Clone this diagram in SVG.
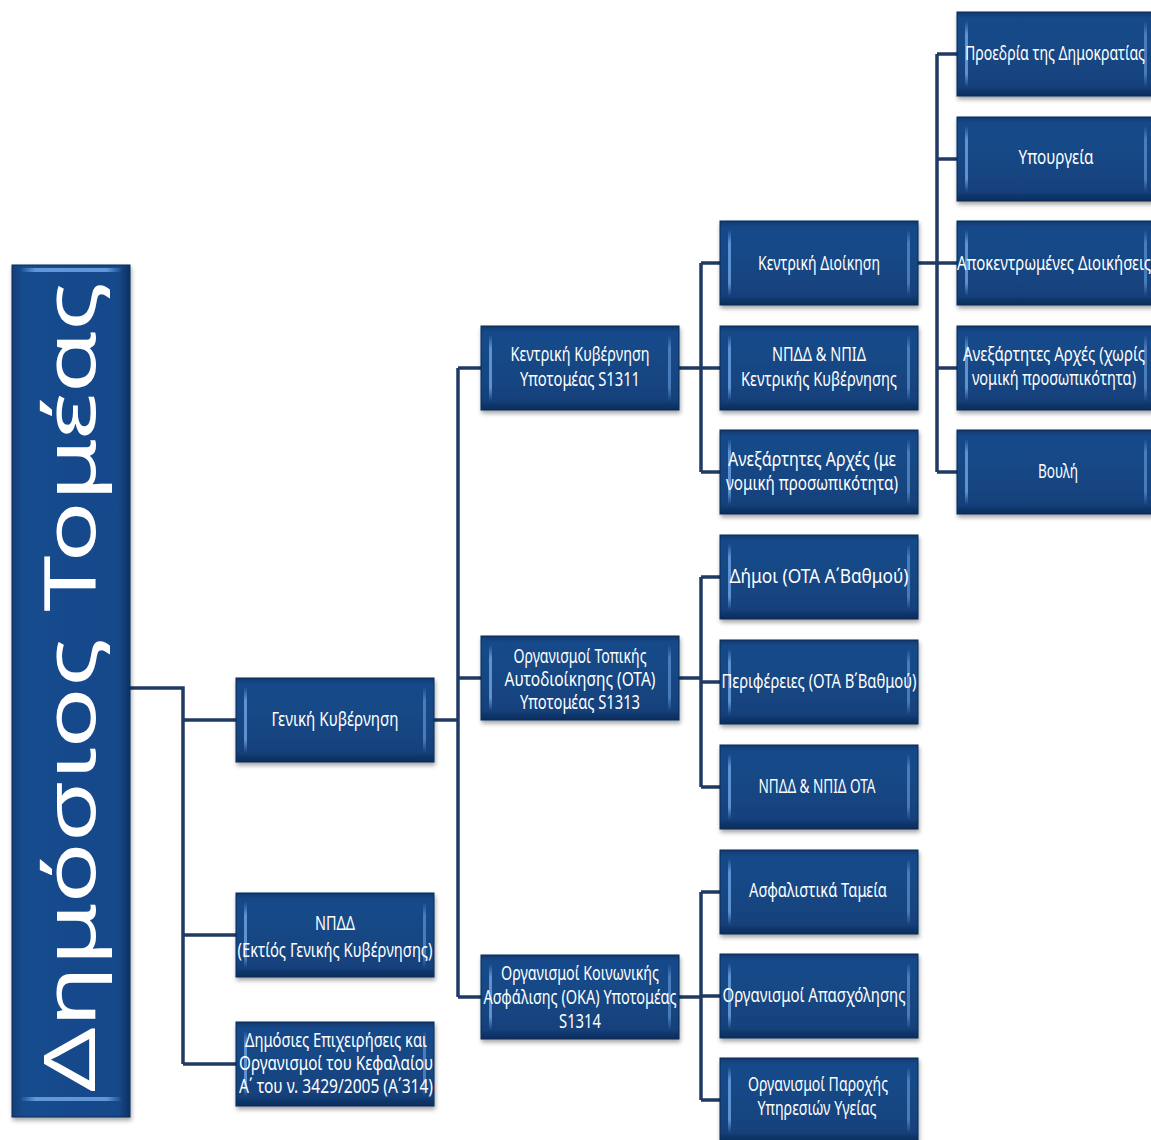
<svg xmlns="http://www.w3.org/2000/svg" xmlns:xlink="http://www.w3.org/1999/xlink" width="1151" height="1140" viewBox="0 0 1151 1140">
<style>
.t{font-family:"Noto Sans","DejaVu Sans",sans-serif;font-size:19px;fill:#ffffff;text-anchor:middle}
.title{font-family:"Noto Sans","DejaVu Sans",sans-serif;font-size:72px;fill:#ffffff;text-anchor:middle}
.node use{filter:url(#sh)}
#connectors path{fill:none;stroke:#203a64;stroke-width:3.5}
</style>
<defs>
<filter id="sh" x="-10%" y="-10%" width="130%" height="140%">
<feDropShadow dx="1" dy="3" stdDeviation="2" flood-color="#000" flood-opacity="0.35"/>
</filter>
<linearGradient id="face" x1="0" y1="0" x2="0" y2="1">
<stop offset="0" stop-color="#0e3870"/>
<stop offset="0.08" stop-color="#184a8a"/>
<stop offset="0.5" stop-color="#174784"/>
<stop offset="0.88" stop-color="#14417c"/>
<stop offset="1" stop-color="#0b2c5a"/>
</linearGradient>
<linearGradient id="faceT" x1="0" y1="0" x2="1" y2="0">
<stop offset="0" stop-color="#113d77"/>
<stop offset="0.1" stop-color="#194c8e"/>
<stop offset="0.9" stop-color="#17488a"/>
<stop offset="1" stop-color="#0d3265"/>
</linearGradient>
<linearGradient id="hl" x1="0" y1="0" x2="0" y2="1">
<stop offset="0" stop-color="#6a9fe0" stop-opacity="0"/>
<stop offset="0.2" stop-color="#6a9fe0" stop-opacity="0.85"/>
<stop offset="0.8" stop-color="#6a9fe0" stop-opacity="0.85"/>
<stop offset="1" stop-color="#6a9fe0" stop-opacity="0"/>
</linearGradient>
<linearGradient id="hlH" x1="0" y1="0" x2="1" y2="0">
<stop offset="0" stop-color="#6a9fe0" stop-opacity="0"/>
<stop offset="0.15" stop-color="#6a9fe0" stop-opacity="0.9"/>
<stop offset="0.85" stop-color="#6a9fe0" stop-opacity="0.9"/>
<stop offset="1" stop-color="#6a9fe0" stop-opacity="0"/>
</linearGradient>
<g id="bx">
<rect width="198" height="84" fill="url(#face)" stroke="#0b2b57" stroke-width="1"/>
<rect x="8" y="9" width="3" height="66" fill="url(#hl)"/>
<rect x="187" y="9" width="3" height="66" fill="url(#hl)" opacity="0.7"/>
</g>
</defs>
<rect width="1151" height="1140" fill="#ffffff"/>

<g id="connectors">
<path d="M130 688H183V1064M183 720H236M183 935H236M183 1064H236"/>
<path d="M434 720H458M458 368V997M458 368H481M458 678H481M458 997H481"/>
<path d="M679 368H701M701 263V472M701 263H720M701 368H720M701 472H720"/>
<path d="M679 678H701M701 577V787M701 577H720M701 682H720M701 787H720"/>
<path d="M679 997H701M701 892V1100M701 892H720M701 996H720M701 1100H720"/>
<path d="M918 263H937M937 54V472M937 54H957M937 159H957M937 263H957M937 368H957M937 472H957"/>
</g>

<g id="n-title">
<rect x="12" y="265" width="118" height="852" fill="url(#faceT)" stroke="#0b2b57" stroke-width="1" filter="url(#sh)"/>
<rect x="20" y="268" width="102" height="4" fill="url(#hlH)"/>
<rect x="20" y="1097" width="102" height="4" fill="url(#hlH)"/>
<text class="title" x="95" y="687" transform="rotate(-90 95 687)" textLength="810" lengthAdjust="spacingAndGlyphs">Δημόσιος Τομέας</text>
</g>

<g id="n-geniki" class="node"><use href="#bx" x="236" y="678"/>
<text class="t" x="335" y="726" textLength="127" lengthAdjust="spacingAndGlyphs">Γενική Κυβέρνηση</text></g>

<g id="n-npdd" class="node"><use href="#bx" x="236" y="893"/>
<text class="t" x="335" y="930" textLength="40" lengthAdjust="spacingAndGlyphs">ΝΠΔΔ</text>
<text class="t" x="335" y="957" textLength="195" lengthAdjust="spacingAndGlyphs">(Εκτίός Γενικής Κυβέρνησης)</text></g>

<g id="n-dimosies" class="node"><use href="#bx" x="236" y="1022"/>
<text class="t" x="336" y="1047" textLength="182" lengthAdjust="spacingAndGlyphs">Δημόσιες Επιχειρήσεις και</text>
<text class="t" x="336" y="1070" textLength="194" lengthAdjust="spacingAndGlyphs">Οργανισμοί του Κεφαλαίου</text>
<text class="t" x="336" y="1093" textLength="194" lengthAdjust="spacingAndGlyphs">Α΄ του ν. 3429/2005 (Α΄314)</text></g>

<g id="n-kentriki-kyv" class="node"><use href="#bx" x="481" y="326"/>
<text class="t" x="580" y="361" textLength="139" lengthAdjust="spacingAndGlyphs">Κεντρική Κυβέρνηση</text>
<text class="t" x="580" y="386" textLength="120" lengthAdjust="spacingAndGlyphs">Υποτομέας S1311</text></g>

<g id="n-ota" class="node"><use href="#bx" x="481" y="636"/>
<text class="t" x="580" y="663" textLength="133" lengthAdjust="spacingAndGlyphs">Οργανισμοί Τοπικής</text>
<text class="t" x="580" y="686" textLength="151" lengthAdjust="spacingAndGlyphs">Αυτοδιοίκησης (ΟΤΑ)</text>
<text class="t" x="580" y="709" textLength="120" lengthAdjust="spacingAndGlyphs">Υποτομέας S1313</text></g>

<g id="n-oka" class="node"><use href="#bx" x="481" y="955"/>
<text class="t" x="580" y="980" textLength="158" lengthAdjust="spacingAndGlyphs">Οργανισμοί Κοινωνικής</text>
<text class="t" x="580" y="1004" textLength="193" lengthAdjust="spacingAndGlyphs">Ασφάλισης (ΟΚΑ) Υποτομέας</text>
<text class="t" x="580" y="1028" textLength="42" lengthAdjust="spacingAndGlyphs">S1314</text></g>

<g id="n-kentriki-dioik" class="node"><use href="#bx" x="720" y="221"/>
<text class="t" x="819" y="270" textLength="122" lengthAdjust="spacingAndGlyphs">Κεντρική Διοίκηση</text></g>

<g id="n-npdd-kk" class="node"><use href="#bx" x="720" y="326"/>
<text class="t" x="819" y="361" textLength="94" lengthAdjust="spacingAndGlyphs">ΝΠΔΔ &amp; ΝΠΙΔ</text>
<text class="t" x="819" y="386" textLength="156" lengthAdjust="spacingAndGlyphs">Κεντρικής Κυβέρνησης</text></g>

<g id="n-anex-me" class="node"><use href="#bx" x="720" y="430"/>
<text class="t" x="812" y="466" textLength="168" lengthAdjust="spacingAndGlyphs">Ανεξάρτητες Αρχές (με</text>
<text class="t" x="812" y="490" textLength="172" lengthAdjust="spacingAndGlyphs">νομική προσωπικότητα)</text></g>

<g id="n-dimoi" class="node"><use href="#bx" x="720" y="535"/>
<text class="t" x="819" y="583" textLength="179" lengthAdjust="spacingAndGlyphs">Δήμοι (ΟΤΑ Α΄Βαθμού)</text></g>

<g id="n-perif" class="node"><use href="#bx" x="720" y="640"/>
<text class="t" x="819" y="688" textLength="195" lengthAdjust="spacingAndGlyphs">Περιφέρειες (ΟΤΑ Β΄Βαθμού)</text></g>

<g id="n-npdd-ota" class="node"><use href="#bx" x="720" y="745"/>
<text class="t" x="817" y="793" textLength="117" lengthAdjust="spacingAndGlyphs">ΝΠΔΔ &amp; ΝΠΙΔ ΟΤΑ</text></g>

<g id="n-asfal" class="node"><use href="#bx" x="720" y="850"/>
<text class="t" x="818" y="897" textLength="138" lengthAdjust="spacingAndGlyphs">Ασφαλιστικά Ταμεία</text></g>

<g id="n-apasx" class="node"><use href="#bx" x="720" y="954"/>
<text class="t" x="814" y="1002" textLength="183" lengthAdjust="spacingAndGlyphs">Οργανισμοί Απασχόλησης</text></g>

<g id="n-ygeia" class="node"><use href="#bx" x="720" y="1058"/>
<text class="t" x="818" y="1091" textLength="140" lengthAdjust="spacingAndGlyphs">Οργανισμοί Παροχής</text>
<text class="t" x="817" y="1115" textLength="119" lengthAdjust="spacingAndGlyphs">Υπηρεσιών Υγείας</text></g>

<g id="n-proedria" class="node"><use href="#bx" x="957" y="12"/>
<text class="t" x="1055" y="60" textLength="180" lengthAdjust="spacingAndGlyphs">Προεδρία της Δημοκρατίας</text></g>

<g id="n-ypourgeia" class="node"><use href="#bx" x="957" y="117"/>
<text class="t" x="1056" y="164" textLength="75" lengthAdjust="spacingAndGlyphs">Υπουργεία</text></g>

<g id="n-apokentr" class="node"><use href="#bx" x="957" y="221"/>
<text class="t" x="1054" y="270" textLength="194" lengthAdjust="spacingAndGlyphs">Αποκεντρωμένες Διοικήσεις</text></g>

<g id="n-anex-xoris" class="node"><use href="#bx" x="957" y="326"/>
<text class="t" x="1054" y="361" textLength="182" lengthAdjust="spacingAndGlyphs">Ανεξάρτητες Αρχές (χωρίς</text>
<text class="t" x="1054" y="385" textLength="164" lengthAdjust="spacingAndGlyphs">νομική προσωπικότητα)</text></g>

<g id="n-vouli" class="node"><use href="#bx" x="957" y="430"/>
<text class="t" x="1058" y="478" textLength="40" lengthAdjust="spacingAndGlyphs">Βουλή</text></g>
</svg>
